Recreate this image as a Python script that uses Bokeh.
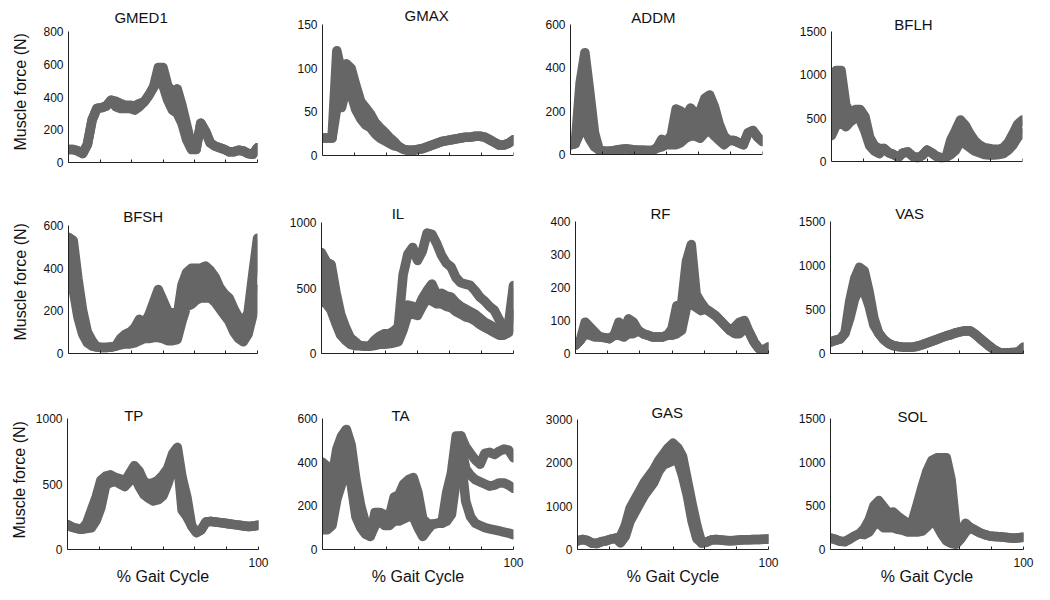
from bokeh.plotting import figure
from bokeh.layouts import column, row
from bokeh.models import Range1d, FixedTicker, Label, Title, CustomJSTickFormatter, BoxAnnotation
from bokeh.embed import file_html
from bokeh.resources import INLINE

# ---------------- data ----------------
X = [0, 2.5, 5, 7.5, 10, 12.5, 15, 17.5, 20, 22.5, 25, 27.5, 30, 32.5, 35, 37.5, 40,
     42.5, 45, 47.5, 50, 52.5, 55, 57.5, 60, 62.5, 65, 67.5, 70, 72.5, 75, 77.5, 80,
     82.5, 85, 87.5, 90, 92.5, 95, 97.5, 100]

gmed1_lo = [80, 80, 70, 55, 110, 260, 330, 335, 345, 380, 340, 330, 330, 330, 320, 340, 370, 410, 460, 500, 470,
            380, 320, 300, 240, 140, 80, 80, 240, 190, 120, 100, 90, 80, 65, 65, 75, 70, 55, 50, 90]
gmed1_hi = [80, 80, 70, 55, 110, 260, 330, 335, 345, 380, 375, 360, 350, 350, 345, 360, 370, 410, 460, 580, 580,
            470, 430, 450, 350, 230, 110, 80, 240, 190, 120, 100, 90, 80, 65, 65, 75, 70, 55, 50, 90]

gmax_lo = [20, 20, 20, 55, 55, 78, 70, 52, 42, 35, 32, 25, 20, 17, 14, 11, 10, 7, 6, 6, 7,
           8, 10, 12, 14, 16, 17, 18, 19, 20, 21, 21, 22, 22, 21, 18, 15, 12, 12, 14, 18]
gmax_hi = [20, 20, 20, 120, 95, 105, 100, 80, 62, 55, 48, 38, 32, 27, 21, 16, 10, 7, 6, 6, 7,
           8, 10, 12, 14, 16, 17, 18, 19, 20, 21, 21, 22, 22, 21, 18, 15, 12, 12, 14, 18]

addm_lo = [45, 50, 100, 120, 70, 35, 20, 15, 15, 18, 22, 25, 25, 22, 20, 20, 18, 18, 30, 35, 45,
           45, 45, 55, 75, 85, 85, 75, 100, 110, 85, 65, 45, 65, 65, 55, 45, 100, 110, 80, 60]
addm_hi = [45, 50, 330, 470, 290, 100, 20, 15, 15, 18, 22, 25, 25, 22, 20, 20, 18, 18, 30, 70, 60,
           90, 210, 200, 170, 215, 190, 200, 260, 275, 220, 140, 85, 65, 65, 55, 45, 100, 110, 80, 60]

bflh_lo = [300, 420, 450, 400, 460, 500, 480, 350, 180, 120, 90, 150, 100, 80, 50, 100, 110, 60, 40, 70, 130,
           100, 60, 40, 50, 80, 130, 230, 200, 160, 120, 100, 80, 75, 75, 80, 90, 130, 190, 280, 330]
bflh_hi = [650, 1050, 1050, 650, 560, 600, 600, 520, 280, 180, 150, 150, 100, 80, 50, 100, 110, 60, 40, 70, 130,
           100, 60, 40, 50, 250, 360, 480, 420, 320, 240, 190, 160, 150, 140, 140, 160, 220, 320, 430, 480]

bfsh_lo = [380, 300, 170, 90, 50, 35, 30, 28, 28, 30, 35, 40, 45, 45, 50, 60, 70, 70, 75, 75, 70,
           60, 60, 65, 150, 220, 230, 250, 260, 260, 260, 240, 210, 180, 150, 100, 70, 55, 90, 180, 300]
bfsh_hi = [545, 530, 350, 200, 100, 60, 30, 28, 28, 30, 35, 70, 90, 100, 120, 160, 140, 180, 240, 300, 250,
           200, 190, 170, 320, 380, 400, 400, 400, 410, 390, 360, 310, 280, 260, 210, 170, 150, 190, 370, 540]

il_lo = [400, 380, 330, 230, 140, 100, 70, 60, 60, 55, 55, 60, 70, 70, 75, 80, 90, 180, 300, 300, 290,
         360, 420, 400, 380, 380, 360, 350, 320, 300, 280, 270, 250, 220, 200, 180, 160, 140, 140, 160, 300]
il_hi = [770, 700, 680, 470, 300, 200, 120, 90, 60, 55, 55, 100, 130, 150, 150, 170, 200, 260, 370, 360, 340,
         420, 480, 530, 450, 460, 440, 430, 390, 360, 340, 320, 300, 270, 240, 220, 200, 180, 170, 230, 520]
il_top_x = [40, 42.5, 45, 47.5, 50, 52.5, 55, 57.5, 60, 62.5, 65, 67.5, 70, 72.5, 75, 77.5, 80,
            82.5, 85, 87.5, 90, 92.5, 95]
il_top = [200, 600, 760, 810, 710, 780, 920, 910, 840, 750, 690, 660, 580, 540, 530, 520, 480,
          430, 400, 360, 330, 260, 200]

rf_lo = [25, 40, 60, 55, 50, 50, 48, 45, 55, 55, 50, 60, 60, 70, 60, 55, 50, 50, 50, 55, 55,
         60, 70, 140, 150, 140, 130, 135, 125, 115, 100, 85, 70, 60, 60, 75, 65, 35, 15, 10, 20]
rf_hi = [25, 40, 95, 80, 65, 50, 48, 45, 55, 95, 70, 105, 95, 70, 60, 55, 50, 50, 50, 55, 75,
         145, 150, 280, 330, 180, 155, 135, 125, 115, 100, 85, 70, 80, 95, 100, 65, 35, 15, 10, 20]

vas_lo = [130, 150, 165, 230, 400, 620, 740, 700, 540, 320, 230, 160, 115, 90, 80, 72, 70, 72, 82, 100, 120,
          140, 160, 180, 200, 215, 235, 248, 258, 255, 220, 170, 125, 80, 40, 12, 8, 8, 10, 20, 70]
vas_hi = [130, 150, 165, 230, 600, 850, 980, 940, 700, 400, 230, 160, 115, 90, 80, 72, 70, 72, 82, 100, 120,
          140, 160, 180, 200, 215, 235, 248, 258, 255, 220, 170, 125, 80, 40, 12, 8, 8, 10, 20, 70]

tp_lo = [190, 170, 160, 155, 160, 165, 220, 320, 490, 510, 520, 500, 480, 520, 560, 480, 420, 390, 370, 380, 410,
         500, 620, 690, 300, 250, 180, 130, 150, 210, 215, 210, 205, 200, 195, 190, 185, 180, 175, 180, 185]
tp_hi = [190, 170, 160, 155, 200, 300, 400, 530, 560, 570, 550, 540, 520, 580, 640, 600, 520, 500, 510, 530, 570,
         620, 730, 780, 550, 400, 180, 130, 150, 210, 215, 210, 205, 200, 195, 190, 185, 180, 175, 180, 185]

ta_x = [0, 2.5, 5, 7.5, 10, 12.5, 15, 17.5, 20, 22.5, 25, 27.5, 30, 32.5, 35, 37.5, 40,
        42.5, 45, 47.5, 50, 52.5, 55, 57.5, 60, 62.5, 65, 67.5, 70, 72.5]
ta_lo = [90, 90, 110, 230, 300, 380, 300, 150, 100, 70, 60, 110, 130, 110, 110, 130, 130,
         140, 150, 150, 100, 60, 90, 115, 120, 120, 130, 160, 320, 330]
ta_hi = [400, 380, 330, 460, 520, 550, 480, 320, 200, 120, 60, 170, 170, 160, 150, 240, 250,
         300, 320, 330, 260, 140, 120, 115, 120, 120, 260, 350, 520, 520]
ta_b_x = [72.5, 75, 77.5, 80, 82.5, 85, 87.5, 90, 92.5, 95, 97.5, 100]
ta_up = [520, 470, 440, 410, 390, 440, 445, 435, 450, 460, 455, 420]
ta_mid = [480, 370, 340, 320, 310, 300, 290, 295, 305, 305, 295, 280]
ta_low = [420, 220, 150, 120, 110, 100, 95, 90, 85, 80, 75, 68]

gas_lo = [200, 230, 210, 150, 140, 180, 200, 240, 260, 150, 300, 650, 850, 1050, 1250, 1400, 1550, 1800, 1950, 2000, 2050,
          2050, 1700, 1250, 650, 250, 150, 170, 220, 230, 220, 210, 200, 210, 220, 225, 225, 230, 230, 235, 240]
gas_hi = [200, 230, 210, 150, 140, 180, 200, 240, 260, 300, 550, 950, 1150, 1350, 1550, 1700, 1850, 2050, 2200, 2350, 2450,
          2350, 2150, 1600, 1050, 550, 150, 170, 220, 230, 220, 210, 200, 210, 220, 225, 225, 230, 230, 235, 240]

sol_lo = [130, 115, 95, 90, 120, 155, 180, 170, 200, 280, 300, 250, 250, 250, 230, 220, 200, 200, 200, 210, 260,
          320, 280, 180, 100, 70, 60, 120, 200, 250, 220, 190, 170, 155, 150, 145, 140, 135, 130, 135, 140]
sol_hi = [130, 115, 95, 90, 120, 155, 180, 240, 340, 500, 560, 490, 420, 430, 380, 340, 300, 330, 520, 720, 900,
          1020, 1050, 1050, 1050, 800, 250, 200, 300, 250, 220, 190, 170, 155, 150, 145, 140, 135, 130, 135, 140]

NAMES = ["GMED1", "GMAX", "ADDM", "BFLH", "BFSH", "IL", "RF", "VAS", "TP", "TA", "GAS", "SOL"]
YMAX = [800, 150, 600, 1500, 600, 1000, 400, 1500, 1000, 600, 3000, 1500]
YTICKS = [[0, 200, 400, 600, 800], [0, 50, 100, 150], [0, 200, 400, 600], [0, 500, 1000, 1500],
          [0, 200, 400, 600], [0, 500, 1000], [0, 100, 200, 300, 400], [0, 500, 1000, 1500],
          [0, 500, 1000], [0, 200, 400, 600], [0, 1000, 2000, 3000], [0, 500, 1000, 1500]]
XTICKS = [0, 16.67, 33.33, 50, 66.67, 83.33, 100]
Y_LABEL = "Muscle force (N)"
X_LABEL = "% Gait Cycle"

BANDS = {
    "GMED1": (X, gmed1_lo, gmed1_hi), "GMAX": (X, gmax_lo, gmax_hi), "ADDM": (X, addm_lo, addm_hi),
    "BFLH": (X, bflh_lo, bflh_hi), "BFSH": (X, bfsh_lo, bfsh_hi), "IL": (X, il_lo, il_hi),
    "RF": (X, rf_lo, rf_hi), "VAS": (X, vas_lo, vas_hi), "TP": (X, tp_lo, tp_hi),
    "TA": (ta_x, ta_lo, ta_hi), "GAS": (X, gas_lo, gas_hi), "SOL": (X, sol_lo, sol_hi),
}
EXTRA = {
    "IL": [(il_top_x, il_top)],
    "TA": [(ta_b_x, ta_up), (ta_b_x, ta_mid), (ta_b_x, ta_low)],
}

# ---------------- layout (page pixels) ----------------
COLS = [(0, 285), (285, 540), (540, 795), (795, 1042)]
ROWS = [(0, 195), (195, 392), (392, 592)]
# common frame bottom per row (all frames in a row share top & bottom)
ROW_BOTTOM = [162, 353, 549]
# axis box: left, right, top (at ymax), bottom (at 0)
FRAMES = [(67, 257, 31, 162), (322, 513, 24, 155), (570, 762, 24, 154), (831, 1022, 31, 161),
          (67, 257, 225, 353), (321, 513, 222, 353), (575, 768, 221, 353), (830, 1023, 221, 353),
          (67, 258, 418, 549), (322, 513, 418, 549), (577, 768, 419, 549), (830, 1023, 418, 549)]
# title centre: x in % of axis, y offset px above the ymax line
TITLE_POS = [(38.4, 14), (54.5, 9), (43.2, 7), (42.9, 7), (39.5, 9), (39.8, 9), (44, 8), (41, 8),
             (34.7, 3), (40.8, 3), (47, 7), (42.5, 2)]
# y-label: start offset above the frame bottom, standoff per row
YL_OFFSET = [12, 13, 11]
YL_STANDOFF = [21, 21, 8]

GRAY = "#666666"
LW = 9.5
FONT = "Liberation Sans"
TXT = "#111111"

figs = []
for i, name in enumerate(NAMES):
    r, c = divmod(i, 4)
    cx0, cx1 = COLS[c]
    ry0, ry1 = ROWS[r]
    rb = ROW_BOTTOM[r]
    fl, fr, ft, fb = FRAMES[i]
    top_px = ry0 + 1
    scale = YMAX[i] / (fb - ft)          # data units per pixel
    yend = scale * (fb - top_px)
    ystart = -scale * (rb - fb)
    p = figure(width=cx1 - cx0, height=ry1 - ry0,
               x_range=Range1d(0, 100), y_range=Range1d(ystart, yend),
               output_backend="svg", toolbar_location=None,
               min_border_left=fl - cx0, min_border_right=cx1 - fr,
               min_border_top=top_px - ry0, min_border_bottom=ry1 - rb)
    p.outline_line_color = None
    p.grid.visible = False
    p.background_fill_color = "white"
    p.border_fill_color = "white"

    bx, lo, hi = BANDS[name]
    p.varea(x=bx, y1=lo, y2=hi, fill_color=GRAY)
    p.line(bx, lo, line_width=LW, color=GRAY, line_join="round", line_cap="round")
    p.line(bx, hi, line_width=LW, color=GRAY, line_join="round", line_cap="round")
    for ex, ey in EXTRA.get(name, []):
        p.line(ex, ey, line_width=LW, color=GRAY, line_join="round", line_cap="round")

    ya = p.yaxis[0]
    xa = p.xaxis[0]
    if rb > fb:
        # zero line sits above the frame bottom: axis at y=0 and strokes cut there
        xa.fixed_location = 0
        p.add_layout(BoxAnnotation(left=-5, right=105, bottom=ystart * 1.5 - 1, top=0,
                                   fill_color="white", fill_alpha=1.0,
                                   line_color=None, level="annotation"))
        xa.level = "overlay"
        ya.level = "overlay"

    # y axis
    ya.bounds = (0, YMAX[i])
    ya.ticker = FixedTicker(ticks=YTICKS[i])
    ya.major_tick_in = 0
    ya.major_tick_out = 0
    ya.minor_tick_in = 0
    ya.minor_tick_out = 0
    ya.axis_line_color = "#222222"
    ya.major_label_text_font = FONT
    ya.major_label_text_font_size = "12px"
    ya.major_label_text_color = TXT
    ya.major_label_standoff = 5
    if c == 0:
        p.add_layout(Title(text=Y_LABEL, align="left", offset=YL_OFFSET[r],
                           standoff=YL_STANDOFF[r], vertical_align="middle",
                           text_font=FONT, text_font_size="16px",
                           text_font_style="normal", text_color=TXT), "left")

    # x axis
    xa.ticker = FixedTicker(ticks=XTICKS)
    xa.major_tick_in = 3
    xa.major_tick_out = 0
    xa.minor_tick_in = 0
    xa.minor_tick_out = 0
    xa.axis_line_color = "#222222"
    xa.major_tick_line_color = "#222222"
    xa.major_label_text_font = FONT
    xa.major_label_text_font_size = "12px"
    xa.major_label_text_color = TXT
    if r == 2:
        xa.formatter = CustomJSTickFormatter(code="return tick >= 99.9 ? '100' : '';")
        xa.major_label_standoff = 8
        xa.axis_label = X_LABEL
        xa.axis_label_text_font = FONT
        xa.axis_label_text_font_size = "16px"
        xa.axis_label_text_font_style = "normal"
        xa.axis_label_text_color = TXT
        xa.axis_label_standoff = -2
    else:
        xa.formatter = CustomJSTickFormatter(code="return '';")
        xa.major_label_text_font_size = "0px"
        xa.major_label_standoff = 0

    tx, toff = TITLE_POS[i]
    p.add_layout(Label(x=tx, y=YMAX[i], x_units="data", y_units="data", y_offset=toff,
                       text=name, text_align="center", text_baseline="middle",
                       text_font=FONT, text_font_size="15px", text_color=TXT))
    figs.append(p)

layout = column(*[row(*figs[k * 4:(k + 1) * 4]) for k in range(3)])
open("out.html", "w").write(file_html(layout, INLINE))
